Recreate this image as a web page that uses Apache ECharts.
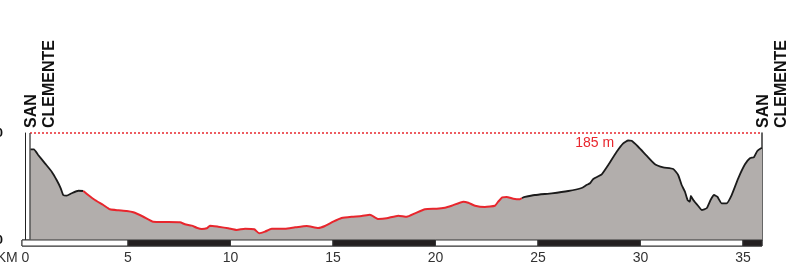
<!DOCTYPE html>
<html>
<head>
<meta charset="utf-8">
<script src="https://cdn.jsdelivr.net/npm/echarts@6/dist/echarts.min.js"></script>
<style>
html, body { margin: 0; padding: 0; background: #fff; }
#chart { width: 803px; height: 274px; }
</style>
</head>
<body>
<div id="chart"></div>
<script>
// route profile, km along course and elevation in metres
const profileKm = [0.22, 0.41, 0.62, 0.95, 1.28, 1.52, 1.72, 1.84, 2.01, 2.25,
    2.58, 2.82, 3.06, 3.39, 3.80, 4.12, 4.53, 4.94, 5.26, 5.75,
    6.23, 6.80, 7.54, 7.78, 8.11, 8.35, 8.60, 8.84, 9.00, 9.40,
    9.89, 10.30, 10.71, 11.16, 11.40, 11.68, 12.01, 12.66, 13.15, 13.72,
    14.28, 14.61, 15.01, 15.42, 15.91, 16.40, 16.80, 17.21, 17.62, 18.19,
    18.60, 19.00, 19.49, 20.06, 20.46, 20.79, 21.36, 21.60, 21.93, 22.41,
    22.90, 23.06, 23.26, 23.47, 23.80, 24.12, 24.22, 24.37, 24.85, 25.67,
    26.48, 27.13, 27.37, 27.54, 27.70, 28.11, 28.43, 28.84, 29.16, 29.40,
    29.57, 29.89, 30.30, 30.71, 31.11, 31.60, 31.84, 32.01, 32.17, 32.30,
    32.41, 32.46, 32.58, 32.82, 32.99, 33.23, 33.42, 33.59, 33.75, 33.96,
    34.20, 34.45, 34.77, 35.10, 35.34, 35.54, 35.70, 35.88, 35.93];
const profileElev = [169.5, 169.5, 158.9, 143.3, 127.7, 112.1, 96.7, 84.1, 82.8, 87.3,
    92.1, 91.6, 84.1, 74.7, 65.4, 57.4, 55.6, 54.2, 51.8, 43.5,
    34.2, 33.6, 33.1, 29.4, 26.8, 23, 20.6, 21.9, 26.8, 24.8,
    21.9, 18.7, 21.1, 20, 12.5, 15.6, 21.1, 21.1, 23.7, 26.2,
    22.4, 26.2, 34.2, 41.1, 43.5, 44.8, 47.3, 39.3, 40.6, 45.5,
    43.5, 49.9, 57.4, 58.5, 60.4, 64.1, 71.6, 69.7, 64.1, 61.7,
    64.1, 71.6, 79.8, 80.4, 77.2, 76.1, 78.5, 80.4, 84.1, 87.3,
    91.6, 97.2, 102.8, 106, 114, 122.8, 140.2, 165, 180.7, 186,
    185.5, 174.3, 157.6, 141.5, 135.8, 132.7, 121.5, 102.8, 90.3, 74.7,
    71.6, 82.2, 74.7, 63.5, 56.1, 59.3, 74.7, 84.1, 80.9, 68.6,
    68.6, 84.1, 115.3, 141.5, 152.7, 155.1, 166.3, 171.4, 171.9];
// stretch drawn in red
const redStartKm = 2.82;
const redEndKm = 24.22;
const kmTicks = [0, 5, 10, 15, 20, 25, 30, 35];
const elevTicks = [0, 200];
const peakLabel = '185 m';
const placeName = 'SAN\nCLEMENTE';

const kmMin = -0.17;
const kmMax = 35.93;
const font = '"Liberation Sans", Arial, sans-serif';
const red = '#e8262d';
const ink = '#1b1b1b';

const points = profileKm.map((km, i) => [km, profileElev[i]]);
const approach = points.filter((p) => p[0] <= redStartKm);
const middle = points.filter((p) => p[0] >= redStartKm && p[0] <= redEndKm);
const finish = points.filter((p) => p[0] >= redEndKm);
const peak = points.reduce((a, b) => (b[1] > a[1] ? b : a));
const first = points[0];
const last = points[points.length - 1];

// alternating white / black strip under the profile
const edges = [kmMin].concat(kmTicks.slice(1), [kmMax]);
const bands = edges.slice(0, -1).map((start, i) => [start, edges[i + 1], i % 2]);

const chart = echarts.init(document.getElementById('chart'));

const lineSeries = (data, color, extra) => Object.assign({
    type: 'line',
    xAxisIndex: 0,
    yAxisIndex: 0,
    data: data,
    symbol: 'none',
    smooth: 0.15,
    lineStyle: { color: color, width: 1.8 },
    z: 3,
}, extra);

chart.setOption({
    animation: false,
    grid: [
        { left: 22, right: 41, top: 133, height: 107, outerBoundsMode: 'none' },
        { left: 22, right: 41, top: 240, height: 6, outerBoundsMode: 'none', show: true, borderColor: '#333', borderWidth: 1 },
    ],
    xAxis: [
        { gridIndex: 0, type: 'value', min: kmMin, max: kmMax, show: false },
        {
            gridIndex: 1,
            type: 'value',
            min: kmMin,
            max: kmMax,
            splitLine: { show: false },
            axisLine: { show: false },
            axisTick: { show: false },
            axisLabel: {
                customValues: kmTicks,
                margin: 5,
                fontSize: 14,
                color: '#333',
                fontFamily: font,
            },
            name: 'KM',
            nameLocation: 'start',
            nameGap: 1,
            nameTextStyle: { fontSize: 14, color: '#333', fontFamily: font, verticalAlign: 'top', padding: [5, 0, 0, 0] },
        },
    ],
    yAxis: [
        {
            gridIndex: 0,
            min: 0,
            max: 200,
            interval: 200,
            position: 'left',
            splitLine: { show: false },
            axisTick: { show: false },
            axisLine: { show: true, lineStyle: { color: '#222', width: 1 } },
            axisLabel: {
                margin: 19,
                fontSize: 13,
                fontWeight: 'bold',
                color: '#111',
                fontFamily: font,
                padding: [0, 0, 6, 0],
            },
        },
        {
            gridIndex: 0,
            min: 0,
            max: 200,
            position: 'right',
            splitLine: { show: false },
            axisTick: { show: false },
            axisLabel: { show: false },
            axisLine: { show: true, lineStyle: { color: '#333', width: 1.5 } },
        },
        { gridIndex: 1, min: 0, max: 1, show: false },
    ],
    series: [
        {
            type: 'line',
            xAxisIndex: 0,
            yAxisIndex: 0,
            data: points,
            symbol: 'none',
            smooth: 0.15,
            lineStyle: { width: 0 },
            areaStyle: { color: '#b2aeac', opacity: 1 },
            z: 2,
            markLine: {
                silent: true,
                symbol: ['none', 'none'],
                label: { show: false },
                lineStyle: { color: red, type: [2, 2], width: 1.5 },
                data: [[{ coord: [first[0], elevTicks[1]] }, { coord: [last[0], elevTicks[1]] }]],
            },
        },
        lineSeries(approach, ink, {
            markLine: {
                silent: true,
                symbol: ['none', 'none'],
                label: { show: false },
                lineStyle: { color: '#555', type: 'solid', width: 1.5 },
                data: [{ xAxis: first[0] }],
            },
        }),
        lineSeries(middle, red, { lineStyle: { color: red, width: 2 } }),
        lineSeries(finish, ink, {
            markPoint: {
                silent: true,
                symbol: 'circle',
                symbolSize: 0,
                data: [{ coord: peak }],
                label: {
                    show: true,
                    position: 'left',
                    distance: 14,
                    offset: [0, 3],
                    formatter: peakLabel,
                    color: red,
                    fontSize: 14,
                    fontFamily: font,
                },
            },
        }),
        {
            type: 'custom',
            xAxisIndex: 1,
            yAxisIndex: 2,
            data: bands,
            renderItem: (params, api) => {
                const a = api.coord([api.value(0), 1]);
                const b = api.coord([api.value(1), 0]);
                return {
                    type: 'rect',
                    shape: { x: a[0], y: a[1], width: b[0] - a[0], height: b[1] - a[1] },
                    style: { fill: api.value(2) ? '#231f20' : '#fff', stroke: '#333', lineWidth: 1 },
                };
            },
        },
    ],
});

// start / finish names, stood upright over both ends of the profile
const leftPx = chart.convertToPixel({ gridIndex: 0 }, [first[0], elevTicks[1]]);
const rightPx = chart.convertToPixel({ gridIndex: 0 }, [last[0], elevTicks[1]]);
chart.setOption({
    graphic: [leftPx, rightPx].map((p) => ({
        type: 'text',
        x: p[0] - 7,
        y: p[1] - 5,
        rotation: Math.PI / 2,
        style: {
            text: placeName,
            font: 'bold 16px ' + font,
            fill: '#111',
            lineHeight: 18,
            align: 'left',
            verticalAlign: 'top',
        },
    })),
});
</script>
</body>
</html>
